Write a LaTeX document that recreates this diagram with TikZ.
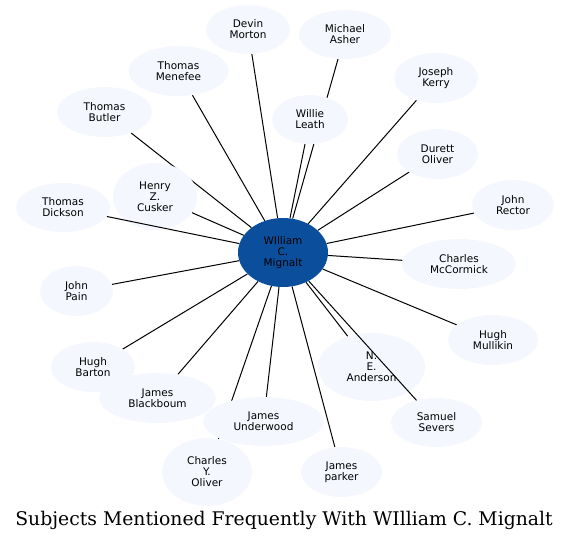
\documentclass[tikz,border=0pt]{standalone}
\usepackage{fontspec}
\setmainfont{DejaVu Sans}
\newfontfamily\titlefont{DejaVu Serif}
\usetikzlibrary{shapes.geometric}
\pgfdeclarelayer{bg}
\pgfsetlayers{bg,main}
\definecolor{nodefill}{HTML}{F4F8FE}
\definecolor{centerfill}{HTML}{0B4F9C}
\tikzset{
  person/.style={ellipse, fill=nodefill, inner sep=0pt, align=center,
    font=\fontsize{10.5}{11}\selectfont, text=black},
  hub/.style={person, fill=centerfill},
  link/.style={black, line width=1pt},
  sz/.style 2 args={minimum width=#1pt, minimum height=#2pt}
}
\begin{document}
\begin{tikzpicture}[x=1pt,y=-1pt]
\useasboundingbox (0,0) rectangle (569,541);
\node[hub, sz={90}{69}] (c) at (283,252.5) {WIlliam\\C.\\Mignalt};
\node[person, sz={84}{49}] (dm) at (248,29.5) {Devin\\Morton};
\node[person, sz={92}{49}] (ma) at (345,34.5) {Michael\\Asher};
\node[person, sz={100}{50}] (tm) at (178.5,71) {Thomas\\Menefee};
\node[person, sz={84}{50}] (jk) at (436,78) {Joseph\\Kerry};
\node[person, sz={95}{50}] (tb) at (104.5,112) {Thomas\\Butler};
\node[person, sz={76}{49}] (wl) at (310,119.5) {Willie\\Leath};
\node[person, sz={81}{50}] (do) at (437.5,154) {Durett\\Oliver};
\node[person, sz={84}{67}] (hc) at (155,196.5) {Henry\\Z.\\Cusker};
\node[person, sz={94}{49}] (td) at (63,207.5) {Thomas\\Dickson};
\node[person, sz={82}{50}] (jr) at (513,205) {John\\Rector};
\node[person, sz={114}{50}] (cm) at (459,264) {Charles\\McCormick};
\node[person, sz={73}{50}] (jp) at (76.5,291) {John\\Pain};
\node[person, sz={90}{50}] (hm) at (493,340) {Hugh\\Mullikin};
\node[person, sz={107}{68}] (na) at (371.5,367) {N.\\E.\\Anderson};
\node[person, sz={84}{50}] (hb) at (93,367) {Hugh\\Barton};
\node[person, sz={117}{50}] (jb) at (157.5,398) {James\\Blackboum};
\node[person, sz={90}{68}] (co) at (207,472) {Charles\\Y.\\Oliver};
\node[person, sz={121}{49}] (ju) at (263.5,421.5) {James\\Underwood};
\node[person, sz={91}{49}] (ss) at (436.5,422.5) {Samuel\\Severs};
\node[person, sz={81}{50}] (jpk) at (341.5,472) {James\\parker};
\begin{pgfonlayer}{bg}
\foreach \n in {dm,ma,tm,jk,tb,wl,do,hc,jr,cm,jp,hm,na,hb,jb,co,ju,jpk}
  \draw[link] (c) -- (\n);
\end{pgfonlayer}
\draw[link] (c) -- (td);
\draw[link] (c) -- (ss);
\node[font=\titlefont\fontsize{18.8}{20}\selectfont, anchor=base, inner sep=0pt] (title) at (284,525) {Subjects Mentioned Frequently With WIlliam C. Mignalt};
\end{tikzpicture}
\end{document}
